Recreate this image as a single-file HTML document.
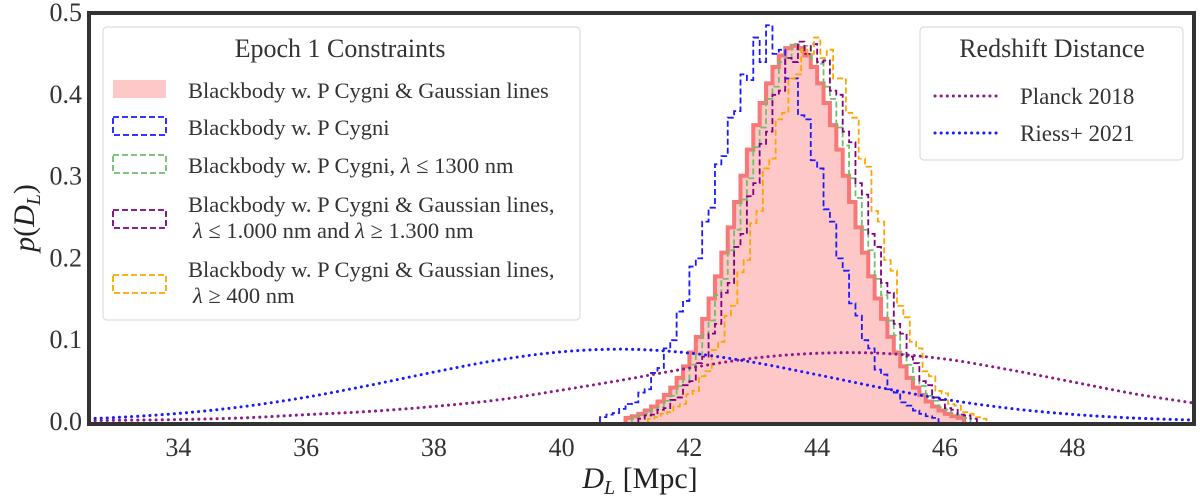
<!DOCTYPE html>
<html><head><meta charset="utf-8"><style>
body{margin:0;background:#fff;}
svg{display:block;}
text{font-family:"Liberation Serif","DejaVu Serif",serif;}
</style></head><body>
<svg id="chart" width="1200" height="499">
<g id="plot"></g>
</svg>
<script>
const histStart={red:41.0,blue:40.6,green:41.1,purple:41.2,orange:41.35};
const histWidth=0.1;
const redVals=[0.005,0.007,0.010,0.014,0.019,0.025,0.033,0.042,0.054,0.068,0.085,0.104,0.126,0.151,0.178,0.207,0.238,0.269,0.301,0.333,0.363,0.390,0.414,0.434,0.448,0.457,0.460,0.457,0.448,0.434,0.414,0.390,0.363,0.333,0.301,0.269,0.238,0.207,0.178,0.151,0.126,0.104,0.085,0.068,0.054,0.042,0.033,0.025,0.019,0.014,0.010,0.007,0.005];
const blueVals=[0.006,0.009,0.011,0.016,0.022,0.024,0.036,0.040,0.060,0.066,0.090,0.100,0.135,0.148,0.190,0.200,0.245,0.262,0.315,0.325,0.372,0.380,0.425,0.418,0.470,0.440,0.485,0.450,0.455,0.420,0.420,0.375,0.370,0.320,0.310,0.260,0.245,0.200,0.185,0.145,0.130,0.100,0.090,0.064,0.058,0.040,0.036,0.024,0.020,0.014,0.010,0.007,0.005];
const greenVals=[0.005,0.008,0.010,0.015,0.018,0.026,0.032,0.044,0.052,0.070,0.083,0.106,0.124,0.155,0.175,0.210,0.235,0.272,0.298,0.336,0.360,0.395,0.410,0.440,0.445,0.462,0.455,0.460,0.444,0.438,0.410,0.395,0.360,0.338,0.298,0.274,0.235,0.210,0.175,0.155,0.124,0.106,0.083,0.070,0.052,0.044,0.032,0.026,0.018,0.015,0.010,0.008,0.005];
const purpleVals=[0.004,0.008,0.009,0.015,0.017,0.027,0.030,0.045,0.050,0.072,0.080,0.108,0.120,0.158,0.170,0.214,0.230,0.276,0.292,0.340,0.355,0.400,0.405,0.445,0.440,0.465,0.450,0.462,0.440,0.442,0.405,0.400,0.355,0.342,0.292,0.278,0.230,0.214,0.170,0.158,0.120,0.108,0.080,0.072,0.050,0.045,0.030,0.027,0.017,0.015,0.009,0.008,0.004];
const orangeVals=[0.004,0.006,0.010,0.012,0.019,0.022,0.034,0.038,0.056,0.062,0.088,0.098,0.130,0.142,0.183,0.198,0.243,0.258,0.310,0.322,0.370,0.378,0.420,0.425,0.455,0.450,0.470,0.445,0.455,0.420,0.420,0.378,0.372,0.322,0.312,0.258,0.245,0.198,0.185,0.142,0.128,0.098,0.090,0.062,0.056,0.038,0.035,0.022,0.020,0.012,0.010,0.006,0.004];
const curveX=[32.6,33,34,35,36,37,38,39,40,41,42,43,44,45,46,47,48,49,50];
const planckVals=[0.0015,0.002,0.003,0.005,0.009,0.013,0.019,0.027,0.039,0.052,0.066,0.078,0.084,0.084,0.077,0.064,0.049,0.034,0.022];
const riessVals=[0.0042,0.0054,0.0105,0.0187,0.0303,0.0450,0.0610,0.0757,0.0858,0.0890,0.0843,0.0730,0.0578,0.0419,0.0277,0.0168,0.0093,0.0047,0.0022];
const xTicks=[34,36,38,40,42,44,46,48];
const yTicks=[0.0,0.1,0.2,0.3,0.4,0.5];

const X0=89,X1=1194,Y0=422,Y1=13;
const xmin=32.6,xmax=49.9,ymin=0,ymax=0.5;
const sx=v=>X0+(v-xmin)/(xmax-xmin)*(X1-X0);
const sy=v=>Y0-(v-ymin)/(ymax-ymin)*(Y0-Y1);
const NS='http://www.w3.org/2000/svg';
const svg=document.getElementById('chart');
const plot=document.getElementById('plot');
function mk(tag,attrs,parent){const e=document.createElementNS(NS,tag);for(const k in attrs)e.setAttribute(k,attrs[k]);(parent||svg).appendChild(e);return e;}

const defs=mk('defs',{});
const cp=mk('clipPath',{id:'clip'},defs);
mk('rect',{x:X0,y:Y1,width:X1-X0,height:Y0-Y1},cp);
plot.setAttribute('clip-path','url(#clip)');

function stepPath(start,vals,closed){
  let d='M'+sx(start)+','+sy(0);
  vals.forEach((v,i)=>{const a=sx(start+i*histWidth),b=sx(start+(i+1)*histWidth);d+=' L'+a+','+sy(v)+' L'+b+','+sy(v);});
  d+=' L'+sx(start+vals.length*histWidth)+','+sy(0);
  if(closed)d+=' Z';
  return d;
}
const fill=mk('path',{d:stepPath(histStart.red,redVals,true),fill:'#ffc8c8',stroke:'none'},plot);


const redLine=mk('path',{d:stepPath(histStart.red,redVals,false),fill:'none',stroke:'#f87878','stroke-width':4},plot);


const hs=[['blue',blueVals,'#1a1aff'],['green',greenVals,'#6fbf6f'],['purple',purpleVals,'#800080'],['orange',orangeVals,'#ffa500']];
hs.forEach(([n,vals,c])=>{
  const p=mk('path',{d:stepPath(histStart[n],vals,false),fill:'none',stroke:c,'stroke-width':1.8,'stroke-dasharray':'6,3'},plot);
  
  
});
function curvePath(xs,ys){
  const pts=xs.map((x,i)=>[sx(x),sy(ys[i])]);
  let d='M'+pts[0][0]+','+pts[0][1];
  for(let i=0;i<pts.length-1;i++){
    const p0=pts[Math.max(0,i-1)],p1=pts[i],p2=pts[i+1],p3=pts[Math.min(pts.length-1,i+2)];
    const c1=[p1[0]+(p2[0]-p0[0])/6,p1[1]+(p2[1]-p0[1])/6],c2=[p2[0]-(p3[0]-p1[0])/6,p2[1]-(p3[1]-p1[1])/6];
    d+=' C'+c1+' '+c2+' '+p2;
  }
  return d;
}
const pl=mk('path',{d:curvePath(curveX,planckVals),fill:'none',stroke:'#8b1a8b','stroke-width':3,'stroke-dasharray':'0.1,6','stroke-linecap':'round'},plot);


const ri=mk('path',{d:curvePath(curveX,riessVals),fill:'none',stroke:'#1a1aff','stroke-width':3,'stroke-dasharray':'0.1,6','stroke-linecap':'round'},plot);



const frame=mk('rect',{x:X0,y:Y1,width:X1-X0,height:Y0-Y1+2,fill:'none',stroke:'#333','stroke-width':4});


xTicks.forEach(t=>{
  const l=mk('text',{x:sx(t),y:456,'text-anchor':'middle','font-size':26,fill:'#333','font-family':'Liberation Serif, serif'});
  l.textContent=t;
  
  
});
yTicks.forEach(t=>{
  const l=mk('text',{x:82,y:sy(t)+8,'text-anchor':'end','font-size':26,fill:'#333','font-family':'Liberation Serif, serif'});
  l.textContent=t.toFixed(1);
  
  
});
</script>
<svg style="position:absolute;left:0;top:0" width="1200" height="499">
<text x="640" y="488" text-anchor="middle" font-size="30" fill="#222"><tspan font-style="italic">D</tspan><tspan font-style="italic" font-size="20" dy="6">L</tspan><tspan dy="-6"> [Mpc]</tspan></text>
<text transform="translate(34,218) rotate(-90)" text-anchor="middle" font-size="30" fill="#222"><tspan font-style="italic">p</tspan>(<tspan font-style="italic">D</tspan><tspan font-style="italic" font-size="20" dy="6">L</tspan><tspan dy="-6">)</tspan></text>
<g>
<rect x="103" y="27" width="477" height="293" rx="4" fill="#fff" fill-opacity="0.85" stroke="#ddd" stroke-width="1.2"/>
<text x="340" y="57" text-anchor="middle" font-size="26" fill="#333">Epoch 1 Constraints</text>
<rect x="113" y="80" width="53" height="18" fill="#ffc8c8"/>
<rect x="113" y="117" width="53" height="18" fill="none" stroke="#1a1aff" stroke-width="1.8" stroke-dasharray="6,3"/>
<rect x="113" y="155" width="53" height="18" fill="none" stroke="#6fbf6f" stroke-width="1.8" stroke-dasharray="6,3"/>
<rect x="113" y="210" width="53" height="18" fill="none" stroke="#800080" stroke-width="1.8" stroke-dasharray="6,3"/>
<rect x="113" y="275" width="53" height="18" fill="none" stroke="#ffa500" stroke-width="1.8" stroke-dasharray="6,3"/>
<g font-size="22.5" fill="#333">
<text x="188" y="98">Blackbody w. P Cygni &amp; Gaussian lines</text>
<text x="188" y="135">Blackbody w. P Cygni</text>
<text x="188" y="173">Blackbody w. P Cygni, <tspan font-style="italic">λ</tspan> ≤ 1300 nm</text>
<text x="188" y="212">Blackbody w. P Cygni &amp; Gaussian lines,</text>
<text x="193" y="238"><tspan font-style="italic">λ</tspan> ≤ 1.000 nm and <tspan font-style="italic">λ</tspan> ≥ 1.300 nm</text>
<text x="188" y="277">Blackbody w. P Cygni &amp; Gaussian lines,</text>
<text x="193" y="303"><tspan font-style="italic">λ</tspan> ≥ 400 nm</text>
</g>
</g>
<g>
<rect x="920" y="27" width="263" height="133" rx="4" fill="#fff" fill-opacity="0.85" stroke="#ddd" stroke-width="1.2"/>
<text x="1052" y="57" text-anchor="middle" font-size="26" fill="#333">Redshift Distance</text>
<line x1="935" y1="96" x2="1000" y2="96" stroke="#8b1a8b" stroke-width="3" stroke-dasharray="0.1,6" stroke-linecap="round"/>
<line x1="935" y1="133" x2="1000" y2="133" stroke="#1a1aff" stroke-width="3" stroke-dasharray="0.1,6" stroke-linecap="round"/>
<text x="1020" y="104" font-size="23" fill="#333">Planck 2018</text>
<text x="1020" y="141" font-size="23" fill="#333">Riess+ 2021</text>
</g>
</svg>
</body></html>
